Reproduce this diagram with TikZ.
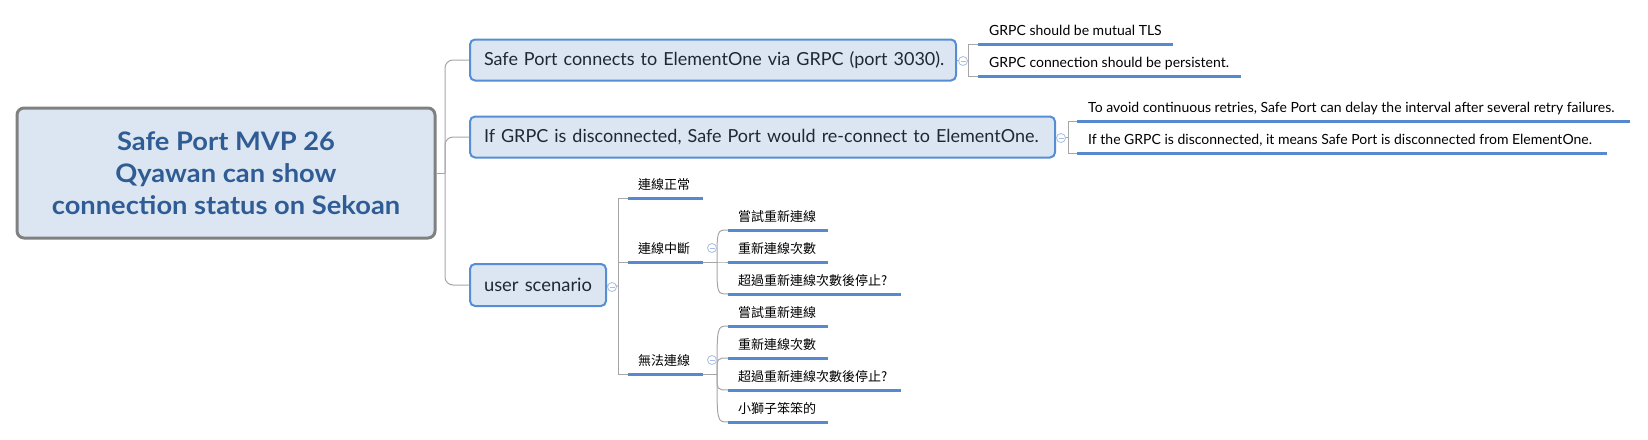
\documentclass[tikz,border=0pt]{standalone}
\usepackage{fontspec}
\setmainfont{Lato}
\newfontfamily\rootfont[FakeStretch=1.07]{Lato}
\newfontfamily\cjk{Noto Sans CJK TC}
\definecolor{boxfill}{RGB}{220,230,242}
\definecolor{boxline}{RGB}{85,142,213}
\definecolor{rootline}{RGB}{128,128,128}
\definecolor{roottext}{RGB}{47,92,148}
\definecolor{conncol}{RGB}{166,166,166}
\definecolor{ulcol}{RGB}{85,138,208}
\definecolor{foldcol}{RGB}{170,190,228}
\definecolor{topictext}{RGB}{30,40,55}
\begin{document}
\begin{tikzpicture}[x=1pt,y=-1pt,
  rootbox/.style={draw=rootline, line width=3pt, rounded corners=7pt, fill=boxfill,
    minimum width=418pt, minimum height=130pt, align=center, text=roottext,
    font=\rootfont\bfseries\fontsize{25.5}{32}\selectfont},
  topicbox/.style={draw=boxline, line width=2pt, rounded corners=5pt, fill=boxfill,
    anchor=west, minimum height=41pt, text=topictext, inner xsep=14pt, align=left,
    font=\fontsize{18}{20}\selectfont},
  leaf/.style={anchor=south west, inner xsep=11pt, inner ysep=0pt, text depth=8pt,
    font=\fontsize{14}{16}\selectfont},
  cleaf/.style={anchor=south west, inner xsep=10pt, inner ysep=0pt, text depth=8pt,
    font=\cjk\fontsize{13}{15}\selectfont},
  conn/.style={draw=conncol, line width=1pt},
  ul/.style={draw=ulcol, line width=3pt},
  fold/.style={circle, draw=foldcol, fill=white, line width=0.8pt, minimum size=9pt, inner sep=0pt,
    path picture={\draw[foldcol, line width=0.8pt] ([xshift=-2.5pt]path picture bounding box.center) -- ([xshift=2.5pt]path picture bounding box.center);}}
]
\useasboundingbox (0,0) rectangle (1648,439);

% root
\node[rootbox] (root) at (226,173) {Safe Port MVP 26\\Qyawan can show\\connection status on Sekoan};
\coordinate (hub0) at (445,173);

% main topics
\node[topicbox, text width=458pt] (b1) at (469,60) {\mbox{Safe Port connects to ElementOne via GRPC (port 3030).}};
\node[topicbox, text width=557pt] (b2) at (469,137) {\mbox{If GRPC is disconnected, Safe Port would re-connect to ElementOne.}};
\node[topicbox, text width=108pt, minimum height=42pt, font=\fontsize{18.4}{20}\selectfont] (b3) at (469,285) {\mbox{user scenario}};

\draw[conn] (root.east) -- (hub0);
\draw[conn, rounded corners=8pt] (hub0) |- (b1.west);
\draw[conn, rounded corners=8pt] (hub0) |- (b2.west);
\draw[conn, rounded corners=8pt] (hub0) |- (b3.west);

% branch 1 children
\coordinate (hub1) at (968,60);
\node[leaf] (c11) at (978,44) {GRPC should be mutual TLS};
\node[leaf] (c12) at (978,76) {GRPC connection should be persistent.};
\draw[conn] (b1.east) -- (hub1);
\draw[conn] (hub1) |- (c11.south west);
\draw[conn] (hub1) |- (c12.south west);
\draw[ul] (c11.south west) -- ++(195,0);
\draw[ul] (c12.south west) -- ++(263,0);
\node[fold] (f1) at (963,61) {};

% branch 2 children
\coordinate (hub2) at (1068,137);
\node[leaf] (c21) at (1077,121) {To avoid continuous retries, Safe Port can delay the interval after several retry failures.};
\node[leaf] (c22) at (1077,153) {If the GRPC is disconnected, it means Safe Port is disconnected from ElementOne.};
\draw[conn] (b2.east) -- (hub2);
\draw[conn] (hub2) |- (c21.south west);
\draw[conn] (hub2) |- (c22.south west);
\draw[ul] (c21.south west) -- ++(553,0);
\draw[ul] (c22.south west) -- ++(530,0);
\node[fold] (f2) at (1061,138) {};

% branch 3 children
\coordinate (hub3) at (618,286);
\node[cleaf] (c31) at (628,198) {連線正常};
\node[cleaf] (c32) at (628,262) {連線中斷};
\node[cleaf] (c33) at (628,374) {無法連線};
\draw[conn] (b3.east) -- (hub3);
\draw[conn] (hub3) |- (c31.south west);
\draw[conn] (hub3) |- (c32.south west);
\draw[conn] (hub3) |- (c33.south west);
\draw[ul] (c31.south west) -- ++(75,0) coordinate (c31e);
\draw[ul] (c32.south west) -- ++(75,0) coordinate (c32e);
\draw[ul] (c33.south west) -- ++(75,0) coordinate (c33e);
\node[fold] (f3) at (612,287) {};

% children of 連線中斷
\coordinate (hub4) at (717,262);
\node[cleaf] (d1) at (728,230) {嘗試重新連線};
\node[cleaf] (d2) at (728,262) {重新連線次數};
\node[cleaf] (d3) at (728,294) {超過重新連線次數後停止?};
\draw[conn] (c32e) -- (hub4);
\foreach \n in {d1,d2,d3}
  \draw[conn] (hub4) .. controls (hub4 |- \n.south west) .. (\n.south west);
\draw[ul] (d1.south west) -- ++(100,0);
\draw[ul] (d2.south west) -- ++(100,0);
\draw[ul] (d3.south west) -- ++(173,0);
\node[fold] (f4) at (712,248) {};

% children of 無法連線
\coordinate (hub5) at (717,374);
\node[cleaf] (e1) at (728,326) {嘗試重新連線};
\node[cleaf] (e2) at (728,358) {重新連線次數};
\node[cleaf] (e3) at (728,390) {超過重新連線次數後停止?};
\node[cleaf] (e4) at (728,422) {小獅子笨笨的};
\draw[conn] (c33e) -- (hub5);
\foreach \n in {e1,e2,e3,e4}
  \draw[conn] (hub5) .. controls (hub5 |- \n.south west) .. (\n.south west);
\draw[ul] (e1.south west) -- ++(100,0);
\draw[ul] (e2.south west) -- ++(100,0);
\draw[ul] (e3.south west) -- ++(173,0);
\draw[ul] (e4.south west) -- ++(100,0);
\node[fold] (f5) at (712,360) {};
\end{tikzpicture}
\end{document}
